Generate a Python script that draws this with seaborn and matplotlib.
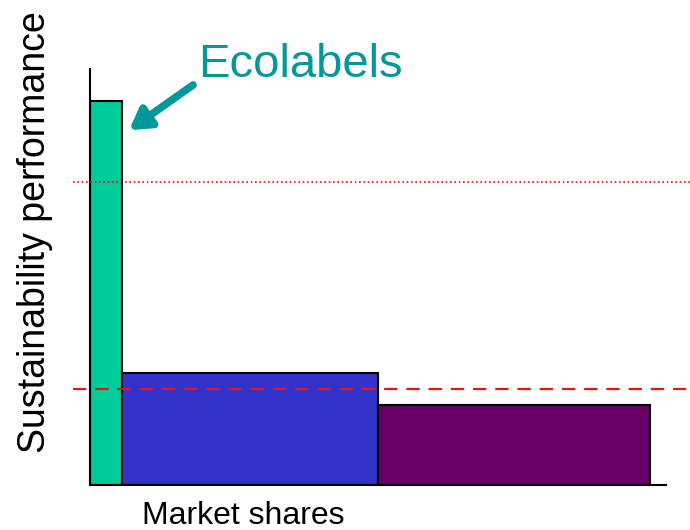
import matplotlib
matplotlib.use("Agg")
import matplotlib.pyplot as plt
import seaborn as sns
import numpy as np

# Market segments: share of the market (bar width) and sustainability performance (bar height)
segments = ["Ecolabels", "Conventional", "Low performers"]
market_share = [5.6, 44.4, 47.2]
performance = [9.23, 2.69, 1.92]
colors = ["#00CC99", "#3333CC", "#660066"]

# Reference performance levels
upper_level = 7.28
lower_level = 2.31

sns.set_theme(style="white")
plt.rcParams["font.family"] = ["Liberation Sans", "DejaVu Sans"]
plt.rcParams["text.color"] = "black"

fig = plt.figure(figsize=(6.9, 5.3), dpi=100)
ax = fig.add_axes([90 / 690, 45 / 530, 576 / 690, 416 / 530])

lefts = np.concatenate([[0], np.cumsum(market_share)[:-1]])
ax.bar(lefts, performance, width=market_share, align="edge",
       color=colors, edgecolor="black", linewidth=1.5, zorder=2)

ax.set_xlim(0, 100)
ax.set_ylim(0, 10)
ax.set_xticks([])
ax.set_yticks([])
sns.despine(ax=ax)
for side in ("left", "bottom"):
    ax.spines[side].set_color("black")
    ax.spines[side].set_linewidth(1.5)

# Horizontal reference lines running past the axes frame
x_span = [-2.95, 104.2]
ax.plot(x_span, [upper_level] * 2, color="#EE1111", lw=1.2,
        linestyle=(0, (1, 1.6)), clip_on=False, zorder=3)
ax.plot(x_span, [lower_level] * 2, color="#EE1111", lw=1.6,
        linestyle=(0, (6, 4)), clip_on=False, zorder=3)

# Ecolabels callout
teal = "#009999"
fig.text(300 / 690, (530 - 77) / 530, "Ecolabels", color=teal,
         fontsize=34, ha="center", va="baseline")
ax.annotate("", xy=(6.8, 8.53), xycoords="data",
            xytext=(193 / 690, (530 - 85) / 530), textcoords="figure fraction",
            arrowprops=dict(arrowstyle="-|>,head_length=1.0,head_width=0.6",
                            color=teal, lw=5.5, shrinkA=0, shrinkB=0),
            annotation_clip=False)

fig.text(243 / 690, (530 - 516) / 530, "Market shares", fontsize=23,
         color="black", ha="center", va="center")
fig.text(35 / 690, (530 - 232) / 530, "Sustainability performance",
         fontsize=27, color="black", rotation=90, ha="center", va="center")

fig.savefig("out.png", dpi=100)
